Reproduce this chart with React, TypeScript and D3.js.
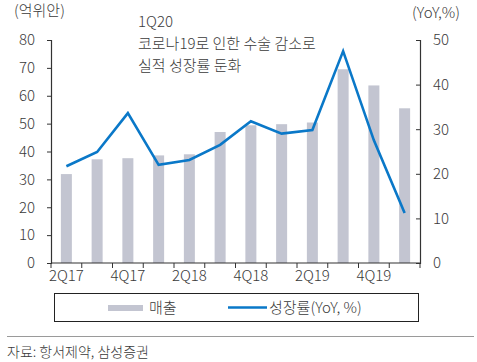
import * as d3 from 'd3';
import React, {useEffect, useRef} from 'react';

const quarters = ['2Q17', '3Q17', '4Q17', '1Q18', '2Q18', '3Q18', '4Q18', '1Q19', '2Q19', '3Q19', '4Q19', '1Q20'];
const sales = [31.9, 37.2, 37.6, 38.6, 39, 47, 49.4, 49.8, 50.4, 69.5, 63.7, 55.5];
const growth = [21.7, 24.9, 33.6, 22, 23.1, 26.5, 31.8, 29, 29.8, 47.5, 27.5, 11.2];
const leftTicks = [0, 10, 20, 30, 40, 50, 60, 70, 80];
const rightTicks = [0, 10, 20, 30, 40, 50];
const shownLabels = ['2Q17', '4Q17', '2Q18', '4Q18', '2Q19', '4Q19'];
const note = ['1Q20', '코로나19로 인한 수술 감소로', '실적 성장률 둔화'];

const W = 477;
const H = 362;
const FONT = '"Noto Sans CJK KR", "Noto Sans", sans-serif';
const TEXT = '#3a3a3a';
const BAR = '#c3c5d1';
const LINE = '#0a78c8';

export default function App() {
  const ref = useRef<SVGSVGElement>(null);

  useEffect(() => {
    const svg = d3.select(ref.current);
    svg.selectAll('*').remove();

    const left = 51, right = 420, top = 40, bottom = 263;

    const x = d3.scaleBand<string>().domain(quarters).range([left, right]);
    const yL = d3.scaleLinear().domain([0, 80]).range([bottom, top]);
    const yR = d3.scaleLinear().domain([0, 50]).range([bottom, top]);

    // bars
    const bw = 11;
    svg.append('g')
      .selectAll('rect')
      .data(sales)
      .enter()
      .append('rect')
      .attr('x', (d, i) => x(quarters[i])! + x.bandwidth() / 2 - bw / 2)
      .attr('y', d => yL(d))
      .attr('width', bw)
      .attr('height', d => bottom - yL(d))
      .attr('fill', BAR);

    // line
    const line = d3.line<number>()
      .x((d, i) => x(quarters[i])! + x.bandwidth() / 2)
      .y(d => yR(d));
    svg.append('path')
      .datum(growth)
      .attr('d', line)
      .attr('fill', 'none')
      .attr('stroke', LINE)
      .attr('stroke-width', 2.6)
      .attr('stroke-linejoin', 'miter');

    // left axis
    const gl = svg.append('g').attr('transform', `translate(${left},0)`);
    gl.call(d3.axisLeft(yL).tickValues(leftTicks).tickSize(4).tickPadding(12));
    // right axis, ticks point inward
    const gr = svg.append('g').attr('transform', `translate(${right},0)`);
    gr.call(d3.axisLeft(yR).tickValues(rightTicks).tickSize(4).tickFormat(d3.format('d')));
    gr.selectAll('.tick text').attr('x', 13).attr('text-anchor', 'start');
    // bottom axis
    const gb = svg.append('g').attr('transform', `translate(0,${bottom})`);
    gb.call(d3.axisBottom(x).tickSize(0).tickPadding(7)
      .tickFormat(d => (shownLabels.includes(d) ? d : '')));
    gb.selectAll('.boundary')
      .data(d3.range(quarters.length + 1))
      .enter()
      .append('line')
      .attr('x1', i => left + i * x.step())
      .attr('x2', i => left + i * x.step())
      .attr('y1', 0)
      .attr('y2', 5)
      .attr('stroke', '#333');

    [gl, gr, gb].forEach(g => {
      g.select('.domain').attr('stroke', '#333').attr('stroke-width', 1.2);
      g.selectAll('.tick line').attr('stroke', '#333');
      g.selectAll('.tick text')
        .attr('fill', TEXT)
        .style('font-family', FONT)
        .style('font-size', '15px')
        .style('font-weight', 300);
    });
    gb.select('.domain').attr('d', `M${left},0H${right}`);

    const txt = (s: string, tx: number, ty: number, size = 15, anchor = 'start') =>
      svg.append('text')
        .attr('x', tx)
        .attr('y', ty)
        .attr('text-anchor', anchor)
        .attr('fill', TEXT)
        .style('font-family', FONT)
        .style('font-size', `${size}px`)
        .style('font-weight', 300)
        .text(s);

    txt('(억위안)', 14, 16);
    txt('(YoY,%)', 412, 18);
    note.forEach((s, i) => txt(s, 138, 27 + i * 22));

    // legend
    svg.append('rect')
      .attr('x', 54.5).attr('y', 293.5)
      .attr('width', 364).attr('height', 28)
      .attr('fill', 'none').attr('stroke', '#222').attr('stroke-width', 1);
    svg.append('rect')
      .attr('x', 108).attr('y', 305).attr('width', 35).attr('height', 6)
      .attr('fill', BAR);
    txt('매출', 149, 313);
    svg.append('line')
      .attr('x1', 228).attr('x2', 267).attr('y1', 307.5).attr('y2', 307.5)
      .attr('stroke', LINE).attr('stroke-width', 2.4);
    txt('성장률(YoY, %)', 269, 313);

    // source
    svg.append('line')
      .attr('x1', 7).attr('x2', 474).attr('y1', 336.5).attr('y2', 336.5)
      .attr('stroke', '#9a9a9a').attr('stroke-width', 1);
    txt('자료: 항서제약, 삼성증권', 7, 357, 14);
  }, []);

  return (
    <div style={{position: 'absolute', left: 0, top: 0}}>
      <svg ref={ref} width={W} height={H} style={{display: 'block', background: '#fff'}}/>
    </div>
  );
}
